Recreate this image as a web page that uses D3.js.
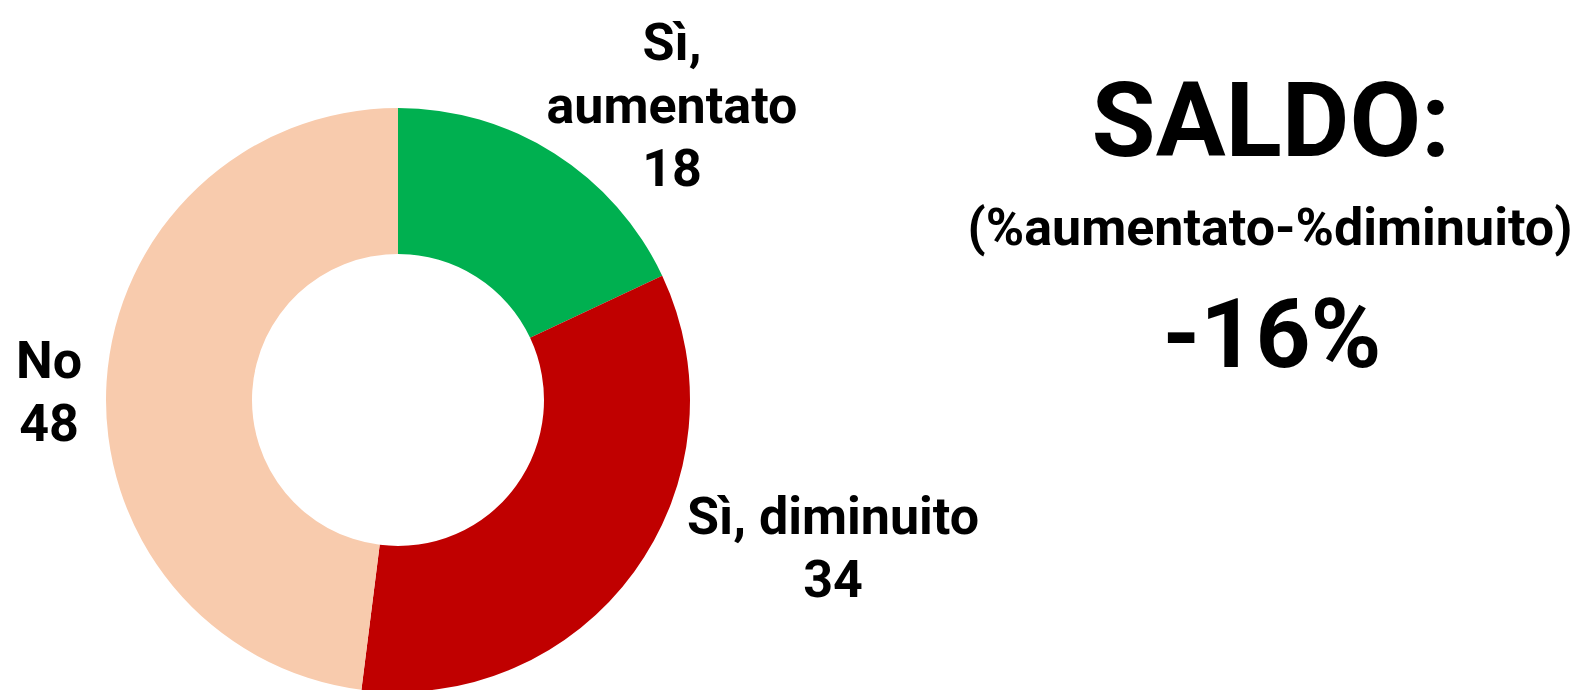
<!DOCTYPE html>
<html>
<head>
<meta charset="utf-8">
<script src="https://cdn.jsdelivr.net/npm/d3@7"></script>
<style>
  body { margin: 0; background: #fff; }
  text { font-family: Roboto, "DejaVu Sans", sans-serif; font-weight: 700; fill: #000; }
</style>
</head>
<body>
<div id="canvas"></div>
<script>
const categories = ["Sì, aumentato", "Sì, diminuito", "No"];
const values = [18, 34, 48];
const labelLines = [["Sì,", "aumentato"], ["Sì, diminuito"], ["No"]];
const colors = ["#00B050", "#C00000", "#F8CBAD"];
const saldoTitle = "SALDO:";
const saldoFormula = "(%aumentato-%diminuito)";
const saldoValue = "-16%";

const width = 1581;
const height = 690;
const cx = 398, cy = 400;
const outerR = 292, innerR = 146;

// where Excel put the data labels (center x, first baseline y)
const labelPos = [[672, 60], [833, 534], [49, 378]];
const lineH = 63;

const data = categories.map((c, i) => ({ cat: c, value: values[i], lines: labelLines[i], color: colors[i] }));

const svg = d3.select("#canvas").append("svg")
    .attr("width", width)
    .attr("height", height);

const pie = d3.pie().value(d => d.value).sort(null);
const arc = d3.arc().innerRadius(innerR).outerRadius(outerR);

const g = svg.append("g").attr("transform", `translate(${cx},${cy})`);

g.selectAll("path")
  .data(pie(data))
  .enter().append("path")
  .attr("d", arc)
  .attr("fill", d => d.data.color);

const labels = svg.selectAll("text.lbl")
  .data(data)
  .enter().append("text")
  .attr("class", "lbl")
  .attr("text-anchor", "middle")
  .style("font-size", "52px");

labels.each(function(d, i) {
    const t = d3.select(this);
    const lines = d.lines.concat([String(d.value)]);
    lines.forEach((ln, j) => {
        t.append("tspan")
          .attr("x", labelPos[i][0])
          .attr("y", labelPos[i][1] + j * lineH)
          .text(ln);
    });
});

const right = svg.append("g").attr("text-anchor", "middle");
right.append("text")
  .attr("x", 1271).attr("y", 156)
  .style("font-size", "104px")
  .text(saldoTitle);
right.append("text")
  .attr("x", 1270).attr("y", 245)
  .style("font-size", "52px")
  .text(saldoFormula);
right.append("text")
  .attr("x", 1272).attr("y", 367)
  .style("font-size", "96px")
  .text(saldoValue);
</script>
</body>
</html>
